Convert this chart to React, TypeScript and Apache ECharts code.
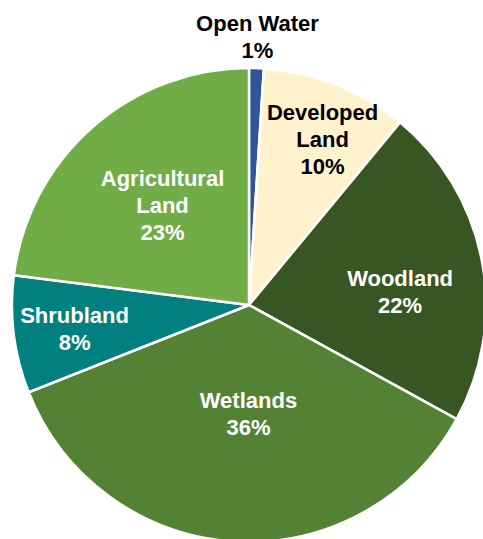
import React, { useEffect, useRef } from "react";
import * as echarts from "echarts";

const categories = ["Open Water", "Developed\nLand", "Woodland", "Wetlands", "Shrubland", "Agricultural\nLand"];
const values = [1, 10, 22, 36, 8, 23];
const colors = ["#2F5597", "#FFF2CC", "#375623", "#548235", "#00807F", "#70AD47"];
const labelColors = ["#000000", "#000000", "#ffffff", "#ffffff", "#ffffff", "#ffffff"];
// label placement in polar terms: distance as fraction of radius, angle clockwise from top (deg)
const labelRadius = [1.133, 0.766, 0.64, 0.46, 0.743, 0.555];
const labelAngle = [1.8, 23.9, 84.9, 180.3, 262.2, 318.9];

const CX = 249;
const CY = 305;
const R = 237;

export default function App() {
  const ref = useRef<HTMLDivElement>(null);
  useEffect(() => {
    if (!ref.current) return;
    const chart = echarts.init(ref.current, undefined, { renderer: "svg" });
    chart.setOption({
      animation: false,
      series: [
        {
          type: "pie",
          center: [CX, CY],
          radius: R,
          startAngle: 90,
          clockwise: true,
          percentPrecision: 0,
          itemStyle: { borderColor: "#ffffff", borderWidth: 2.5 },
          label: {
            show: true,
            position: "inside",
            fontFamily: "Liberation Sans, Arial, sans-serif",
            fontWeight: "bold",
            fontSize: 22,
            lineHeight: 27,
            formatter: (p: any) => `${p.name}\n${p.percent}%`,
          },
          labelLine: { show: false },
          emphasis: { disabled: true },
          labelLayout: (params: any) => {
            const i = params.dataIndex;
            const a = (labelAngle[i] * Math.PI) / 180;
            const d = labelRadius[i] * R;
            return {
              x: CX + d * Math.sin(a),
              y: CY - d * Math.cos(a),
              align: "center",
              verticalAlign: "middle",
            };
          },
          data: categories.map((name, i) => ({
            name,
            value: values[i],
            itemStyle: { color: colors[i] },
            label: { color: labelColors[i] },
          })),
        },
      ],
    });
    return () => chart.dispose();
  }, []);
  return (
    <div
      ref={ref}
      style={{ position: "fixed", left: 0, top: 0, width: 483, height: 539, background: "#ffffff" }}
    />
  );
}
